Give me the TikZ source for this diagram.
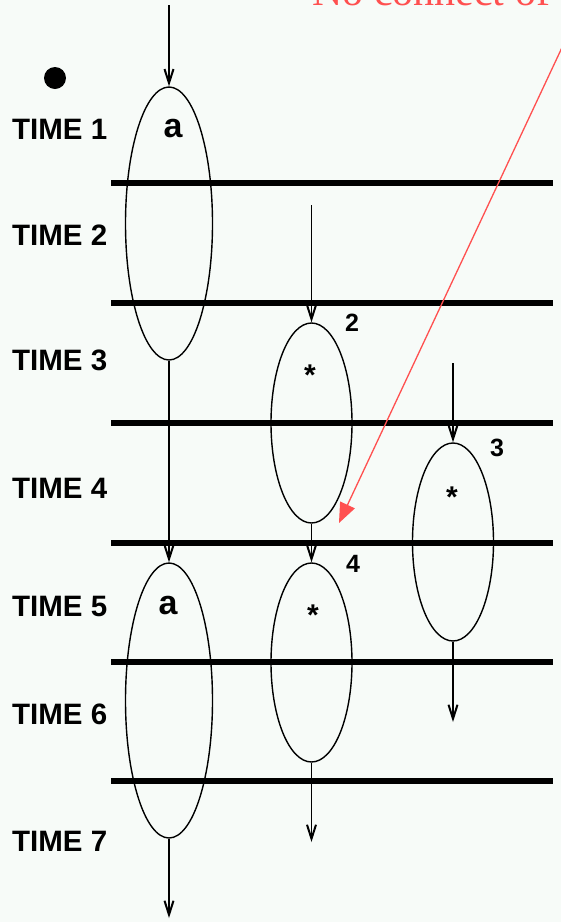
\documentclass[tikz,border=0pt]{standalone}
\usepackage{fontspec}
\setmainfont{Liberation Serif}
\setsansfont{Liberation Sans}
\usetikzlibrary{shapes.geometric,arrows.meta}
\definecolor{paper}{RGB}{247,251,248}
\definecolor{note}{RGB}{255,80,80}

\begin{document}
\begin{tikzpicture}[x=1pt, y=-1pt,
    period/.style={line width=6pt},
    proc/.style={draw, ellipse, line width=1.4pt, inner sep=0pt},
    timelbl/.style={anchor=base west, inner sep=0pt,
      font=\sffamily\bfseries\fontsize{29.5}{30}\selectfont},
    tag/.style={anchor=base, inner sep=0pt,
      font=\sffamily\bfseries\fontsize{25}{27}\selectfont},
    flow/.style={-{Straight Barb[length=14pt,width=9pt,line width=2pt]}, line width=1.6pt},
    pointer/.style={-{Triangle[length=20pt,width=16pt]}, note, line width=1.3pt}
  ]
    \clip (0,0) rectangle (561,922);
    \fill[paper] (0,0) rectangle (561,922);

    % time boundaries
    \draw[period] (111,183) -- (553,183);
    \draw[period] (111,303) -- (553,303);
    \draw[period] (111,423) -- (553,423);
    \draw[period] (111,543) -- (553,543);
    \draw[period] (111,662) -- (553,662);
    \draw[period] (111,781) -- (553,781);

    \node[timelbl] (t1) at (12,139) {TIME 1};
    \node[timelbl] (t2) at (12,245) {TIME 2};
    \node[timelbl] (t3) at (12,370) {TIME 3};
    \node[timelbl] (t4) at (12,498) {TIME 4};
    \node[timelbl] (t5) at (12,616) {TIME 5};
    \node[timelbl] (t6) at (12,724) {TIME 6};
    \node[timelbl] (t7) at (12,851) {TIME 7};

    \fill (55,78) circle (11pt);

    % processes
    \node[proc, minimum width=87pt, minimum height=273pt] (a1) at (169,223.5) {};
    \node[proc, minimum width=81pt, minimum height=200pt] (p2) at (311.5,423) {};
    \node[proc, minimum width=81pt, minimum height=198pt] (p3) at (453,542) {};
    \node[proc, minimum width=81pt, minimum height=199pt] (p4) at (311.5,662.5) {};
    \node[proc, minimum width=87pt, minimum height=275pt] (a2) at (169,700.5) {};

    \node[tag, font=\sffamily\bfseries\fontsize{34}{36}\selectfont] (la1) at (173,137) {a};
    \node[tag, font=\sffamily\bfseries\fontsize{34}{36}\selectfont] (la2) at (168,614) {a};
    \node[tag, font=\sffamily\bfseries\fontsize{30}{32}\selectfont] (s2) at (310,385) {*};
    \node[tag, font=\sffamily\bfseries\fontsize{30}{32}\selectfont] (s3) at (452,507) {*};
    \node[tag, font=\sffamily\bfseries\fontsize{30}{32}\selectfont] (s4) at (313,625) {*};
    \node[tag] (n2) at (352,331) {2};
    \node[tag] (n3) at (497,456) {3};
    \node[tag] (n4) at (353,572) {4};

    % flows
    \coordinate (a1in) at (169,5);
    \coordinate (p2in) at (311.5,205);
    \coordinate (p3in) at (453,363);
    \coordinate (p3out) at (453,722);
    \coordinate (p4out) at (311.5,842);
    \coordinate (a2out) at (169,918);
    \draw[flow] (a1in) -- (a1.north);
    \draw[flow] (a1.south) -- (a2.north);
    \draw[flow] (p2in) -- (p2.north);
    \draw[flow] (p2.south) -- (p4.north);
    \draw[flow] (p3in) -- (p3.north);
    \draw[flow] (p3.south) -- (p3out);
    \draw[flow] (p4.south) -- (p4out);
    \draw[flow] (a2.south) -- (a2out);

    % remark
    \node[anchor=base west, inner sep=0pt, text=note,
      font=\fontsize{42}{44}\selectfont] (remark) at (312,5) {No connect of};
    \coordinate (ptrstart) at (566,39);
    \coordinate (ptrend) at (339,523);
    \draw[pointer] (ptrstart) -- (ptrend);
  \end{tikzpicture}
\end{document}
